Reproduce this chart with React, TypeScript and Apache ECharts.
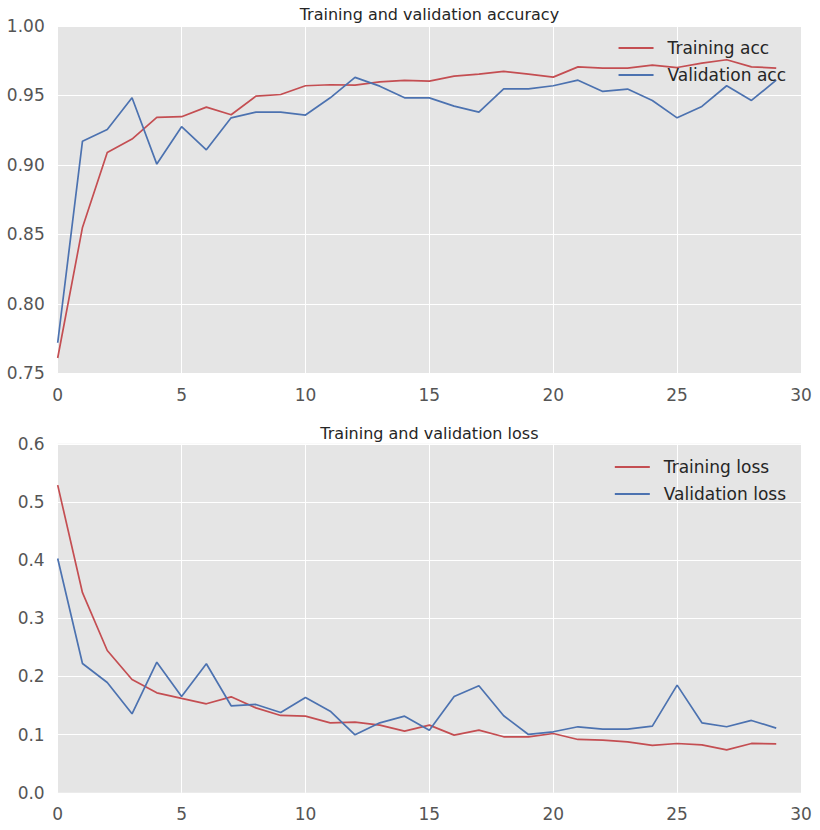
import React, { useEffect, useRef } from "react";
import * as echarts from "echarts";

const epochs = Array.from({ length: 30 }, (_, i) => i);

const trainAcc = [
  0.761, 0.855, 0.909, 0.9186, 0.9342, 0.9347, 0.9416, 0.9361, 0.9495, 0.9507,
  0.957, 0.9577, 0.9574, 0.9598, 0.9608, 0.9603, 0.9639, 0.9653, 0.9673, 0.9653,
  0.9632, 0.9706, 0.9697, 0.9697, 0.9718, 0.9701, 0.9733, 0.9757, 0.9706, 0.9697,
];
const valAcc = [
  0.772, 0.9171, 0.9255, 0.9483, 0.9006, 0.9275, 0.9109, 0.9339, 0.938, 0.938,
  0.9359, 0.9483, 0.963, 0.9567, 0.9483, 0.9483, 0.9423, 0.938, 0.9548, 0.9548,
  0.957, 0.961, 0.9529, 0.9546, 0.9464, 0.9339, 0.9421, 0.957, 0.9464, 0.961,
];
const trainLoss = [
  0.529, 0.344, 0.2447, 0.1948, 0.1719, 0.1622, 0.153, 0.165, 0.146, 0.133,
  0.1318, 0.1203, 0.1215, 0.1163, 0.106, 0.1163, 0.0991, 0.1077, 0.0963, 0.0963,
  0.102, 0.0917, 0.0905, 0.0877, 0.0814, 0.0848, 0.0825, 0.0739, 0.0848, 0.0842,
];
const valLoss = [
  0.4029, 0.2223, 0.1897, 0.1358, 0.2246, 0.1656, 0.2218, 0.1496, 0.1519, 0.1381,
  0.1639, 0.1404, 0.0997, 0.1203, 0.1318, 0.1077, 0.1656, 0.184, 0.1324, 0.1003,
  0.1049, 0.1135, 0.1095, 0.1095, 0.1146, 0.1851, 0.1203, 0.1135, 0.1244, 0.1112,
];

const RED = "#C44E52";
const BLUE = "#4C72B0";
const FONT = "DejaVu Sans";
const TICK = "#555555";

const pair = (arr: number[]) => epochs.map((e, i) => [e, arr[i]]);

export default function App() {
  const ref = useRef<HTMLDivElement>(null);
  useEffect(() => {
    if (!ref.current) return;
    const chart = echarts.init(ref.current, null, { renderer: "svg" });
    const xAxisBase = (gridIndex: number) => ({
      type: "value" as const,
      gridIndex,
      min: 0,
      max: 30,
      interval: 5,
      axisLine: { show: false },
      axisTick: { show: false },
      axisLabel: { color: TICK, fontSize: 17, fontFamily: FONT, margin: 13 },
      splitLine: { show: true, lineStyle: { color: "#ffffff", width: 1 } },
    });
    const yAxisBase = (gridIndex: number, min: number, max: number, interval: number, dec: number) => ({
      type: "value" as const,
      gridIndex,
      min,
      max,
      interval,
      axisLine: { show: false },
      axisTick: { show: false },
      axisLabel: {
        color: TICK,
        fontSize: 17,
        fontFamily: FONT,
        margin: 13,
        formatter: (v: number) => v.toFixed(dec),
      },
      splitLine: { show: true, lineStyle: { color: "#ffffff", width: 1 } },
    });
    const lineSeries = (name: string, data: number[], color: string, idx: number) => ({
      type: "line" as const,
      name,
      xAxisIndex: idx,
      yAxisIndex: idx,
      data: pair(data),
      symbol: "none",
      lineStyle: { color, width: 1.7 },
      itemStyle: { color },
    });
    const legendBase = (data: string[], top: number) => ({
      data,
      orient: "vertical" as const,
      right: 34,
      top,
      icon: "rect",
      itemWidth: 35,
      itemHeight: 2,
      itemGap: 9,
      padding: 0,
      align: "left" as const,
      textStyle: {
        color: "#262626",
        fontSize: 17,
        fontFamily: FONT,
        lineHeight: 18,
        padding: [0, 0, 0, 9],
      },
    });
    chart.setOption({
      animation: false,
      backgroundColor: "#ffffff",
      title: [
        {
          text: "Training and validation accuracy",
          left: 429.4,
          top: 6,
          textAlign: "center",
          padding: 0,
          textStyle: { color: "#262626", fontSize: 16, fontWeight: "normal", fontFamily: FONT },
        },
        {
          text: "Training and validation loss",
          left: 429.4,
          top: 425,
          textAlign: "center",
          padding: 0,
          textStyle: { color: "#262626", fontSize: 16, fontWeight: "normal", fontFamily: FONT },
        },
      ],
      legend: [
        legendBase(["Training acc", "Validation acc"], 39),
        legendBase(["Training loss", "Validation loss"], 458),
      ],
      grid: [
        { left: 57.7, right: 19, top: 26, height: 347.3, show: true, backgroundColor: "#E5E5E5", borderWidth: 0 },
        { left: 57.7, right: 19, top: 443.8, height: 349, show: true, backgroundColor: "#E5E5E5", borderWidth: 0 },
      ],
      xAxis: [xAxisBase(0), xAxisBase(1)],
      yAxis: [yAxisBase(0, 0.75, 1.0, 0.05, 2), yAxisBase(1, 0, 0.6, 0.1, 1)],
      series: [
        lineSeries("Training acc", trainAcc, RED, 0),
        lineSeries("Validation acc", valAcc, BLUE, 0),
        lineSeries("Training loss", trainLoss, RED, 1),
        lineSeries("Validation loss", valLoss, BLUE, 1),
      ],
    });
    return () => chart.dispose();
  }, []);
  return (
    <div
      ref={ref}
      style={{ position: "absolute", left: 0, top: 0, width: 820, height: 830 }}
    />
  );
}
